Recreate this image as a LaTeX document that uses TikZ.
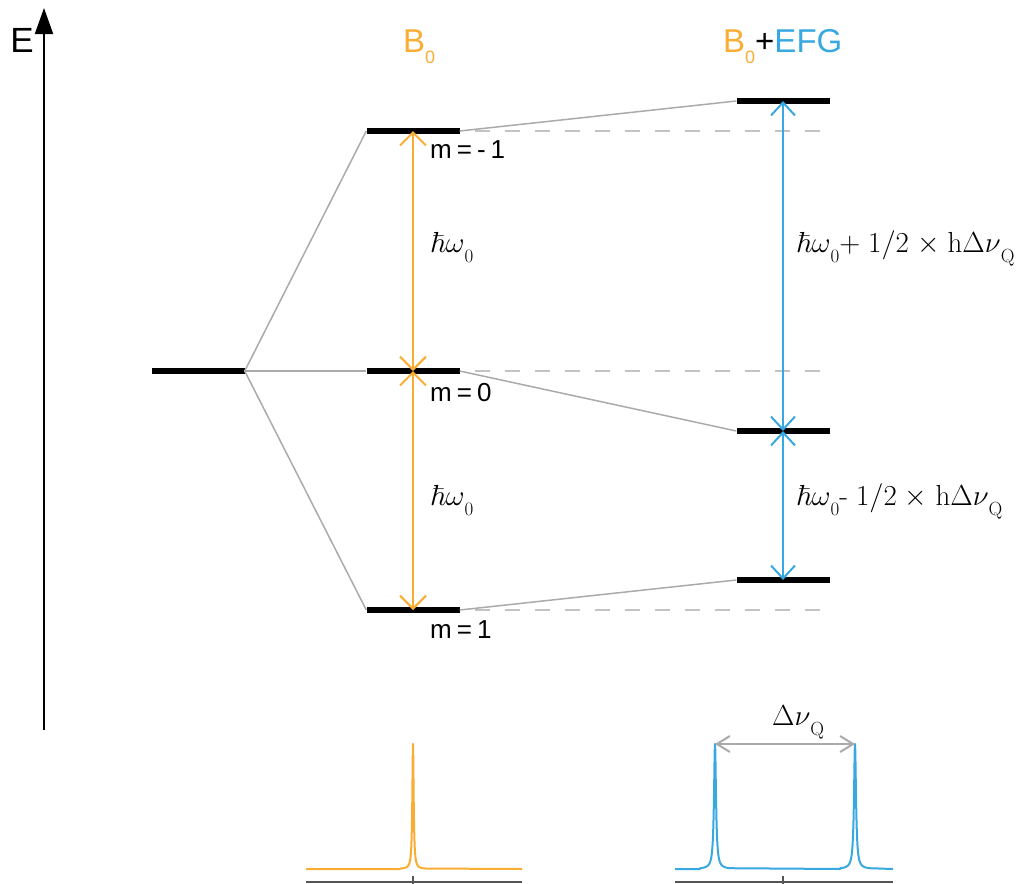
\RequirePackage{fix-cm}
\documentclass[tikz,border=0pt]{standalone}
\usepackage[no-math]{fontspec}
\usepackage{amsmath,amssymb}
\usepackage{tikz}
\usetikzlibrary{arrows.meta,positioning,calc}
\usepackage{xcolor}
\newfontfamily\sansf{Liberation Sans}
\definecolor{orangeB}{RGB}{249,173,51}
\definecolor{blueE}{RGB}{56,168,224}
\definecolor{linkgray}{RGB}{170,170,170}
\definecolor{guidegray}{RGB}{195,195,195}
\definecolor{axisgray}{RGB}{85,85,85}
\newcommand\dsub[1]{\raisebox{-10pt}{\fontsize{19}{19}\selectfont$\mathrm{#1}$}}
\newcommand\tsub[1]{\raisebox{-11pt}{\fontsize{18}{18}\selectfont #1}}

\begin{document}
\begin{tikzpicture}[
  x=1pt, y=-1pt,
  level/.style={fill=black, inner sep=0pt, minimum width=93pt,
                minimum height=5.5pt},
  link/.style={draw=linkgray, line width=1.5pt},
  guide/.style={draw=guidegray, line width=1.5pt,
                dash pattern=on 15pt off 15pt},
  oarr/.style={draw=orangeB, line width=2pt, <->,
               >={Straight Barb[length=13pt,width=26pt]}},
  barr/.style={draw=blueE, line width=2pt, <->,
               >={Straight Barb[length=13pt,width=24pt]}},
  garr/.style={draw=linkgray, line width=2pt, <->,
               >={Straight Barb[length=13pt,width=16pt]}},
  mlab/.style={anchor=base west, inner sep=0pt,
               font=\sansf\fontsize{26}{26}\selectfont},
  elab/.style={anchor=base west, inner sep=0pt,
               font=\fontsize{29}{31}\selectfont},
  title/.style={anchor=base west, inner sep=0pt,
                font=\sansf\fontsize{33}{33}\selectfont},
  spec/.style={line width=2pt, line join=round},
  axis/.style={draw=axisgray, line width=2pt}
]
\useasboundingbox (0,0) rectangle (1018,884);

\coordinate (ebot) at (44,730);
\coordinate (etop) at (44,8);
\draw[line width=2pt, -{Triangle[length=26pt,width=18pt]}] (ebot) -- (etop);
\node[title, anchor=base, font=\sansf\fontsize{35}{35}\selectfont] (elbl)
  at (22,52) {E};

\node[title, text=orangeB] (tb0) at (403,52) {B\tsub{0}};
\node[title] (tefg) at (723,52)
  {\textcolor{orangeB}{B\tsub{0}}+\textcolor{blueE}{EFG}};

\node[level] (deg) at (198,371) {};
\node[level] (bm1) at (413,131) {};
\node[level] (b0)  at (413,371) {};
\node[level] (bp1) at (413,610) {};
\node[level] (em1) at (783,101) {};
\node[level] (e0)  at (783,431) {};
\node[level] (ep1) at (783,580) {};

\draw[link] (deg.east) -- (bm1.west);
\draw[link] (deg.east) -- (b0.west);
\draw[link] (deg.east) -- (bp1.west);
\draw[link] (bm1.east) -- (em1.west);
\draw[link] (b0.east) -- (e0.west);
\draw[link] (bp1.east) -- (ep1.west);

\draw[guide] ([xshift=15pt]bm1.east) -- (bm1.east -| em1.east);
\draw[guide] ([xshift=15pt]b0.east) -- (b0.east -| em1.east);
\draw[guide] ([xshift=15pt]bp1.east) -- (bp1.east -| em1.east);

\draw[oarr] (bm1.center) -- (b0.center);
\draw[oarr] (b0.center) -- (bp1.center);
\draw[barr] (em1.center) -- (e0.center);
\draw[barr] (e0.center) -- (ep1.center);

\node[mlab] (lm1) at (430,158) {m\kern5pt=\kern5pt-\kern5pt1};
\node[mlab] (l0)  at (430,401) {m\kern5pt=\kern5pt0};
\node[mlab] (lp1) at (430,638) {m\kern5pt=\kern5pt1};

\node[elab] (hw1) at (430,252) {$\hbar\omega\dsub{0}$};
\node[elab] (hw2) at (430,505) {$\hbar\omega\dsub{0}$};
\node[elab] (hq1) at (796,252)
  {$\hbar\omega\dsub{0}{+}\;1/2\;{\times}\;\mathrm{h}\Delta\nu\dsub{Q}$};
\node[elab] (hq2) at (796,505)
  {$\hbar\omega\dsub{0}\text{-}\;1/2\;{\times}\;\mathrm{h}\Delta\nu\dsub{Q}$};

\draw[spec, orangeB] (306,869) -- (400,869)
  -- plot[domain=400:426, samples=261] (\x,{869-125*0.64/((\x-413)^2+0.64)})
  -- (522,869);
\draw[axis] (306,882) -- (522,882);
\draw[axis] (413,876) -- (413,884);

\draw[spec, blueE] (675,869) -- (700,869)
  -- plot[domain=700:730, samples=301] (\x,{869-125*1.44/((\x-715)^2+1.44)})
  -- (840,869)
  -- plot[domain=840:870, samples=301] (\x,{869-125*1.44/((\x-855)^2+1.44)})
  -- (893,869);
\draw[axis] (675,882) -- (893,882);
\draw[axis] (783,876) -- (783,884);

\coordinate (pk1) at (715,744);
\coordinate (pk2) at (855,744);
\draw[garr] (pk1) -- (pk2);
\node[elab] (dnu) at (772,725) {$\Delta\nu\dsub{Q}$};
\end{tikzpicture}
\end{document}
